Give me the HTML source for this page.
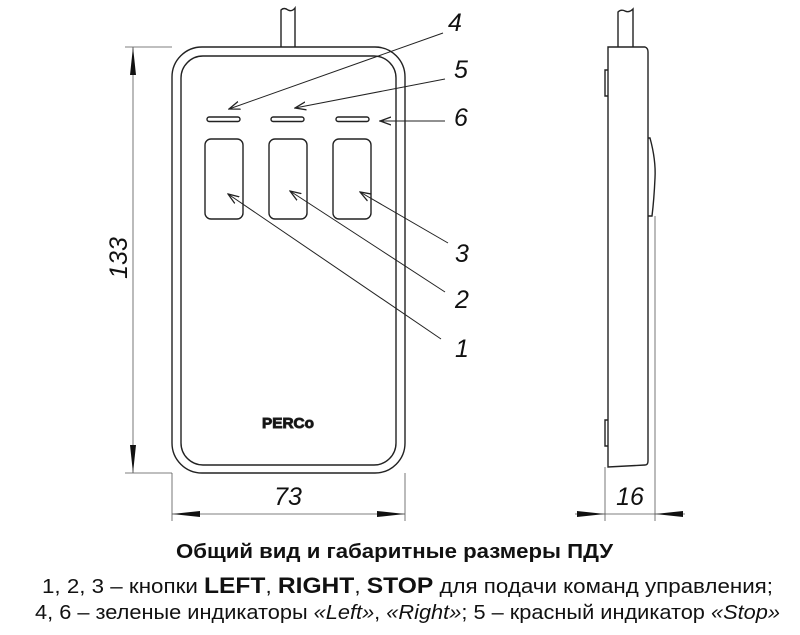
<!DOCTYPE html>
<html><head><meta charset="utf-8"><style>
html,body{margin:0;padding:0;background:#fff;}
svg{display:block;}
text{font-family:"Liberation Sans","Noto Sans CJK SC",sans-serif;fill:#111;}
</style></head><body>
<svg width="800" height="635" viewBox="0 0 800 635" xmlns="http://www.w3.org/2000/svg">
<defs>
<marker id="ah" viewBox="0 0 12 10" refX="11" refY="5" markerWidth="12" markerHeight="10" orient="auto" markerUnits="userSpaceOnUse">
<path d="M0,1 L11,5 L0,9" fill="none" stroke="#222" stroke-width="1.3"/>
</marker>
</defs>
<g fill="none" stroke="#222" stroke-width="1.4">
<path d="M281,47 V10 Q284,7 288,10 Q292,12 295,8 V47"/>
<rect x="172" y="47" width="233" height="426" rx="30"/>
<rect x="181" y="56" width="215" height="409" rx="22"/>
<rect x="207" y="117" width="33" height="4.5" rx="2.2"/>
<rect x="271" y="117" width="33" height="4.5" rx="2.2"/>
<rect x="336" y="117" width="33" height="4.5" rx="2.2"/>
<rect x="205" y="139" width="38" height="80" rx="6"/>
<rect x="269" y="139" width="38" height="80" rx="6"/>
<rect x="333" y="139" width="38" height="80" rx="6"/>
<path d="M618,47 V12 Q621,9 625,11 Q629,13 633,9 V47"/>
<path d="M608,47 H645 Q648,48 648,52 V461 Q648,465 645,465 L608,467 Z"/>
<path d="M608,70 H605 V96 H608"/>
<path d="M608,420 H605 V446 H608"/>
<path d="M648,138 H650 Q656,160 655,178 Q654,200 652,216 H648"/>
</g>
<g stroke="#222" stroke-width="1" fill="none">
<line x1="443" y1="33" x2="229" y2="109" marker-end="url(#ah)"/>
<line x1="445" y1="79" x2="295" y2="108" marker-end="url(#ah)"/>
<line x1="445" y1="121" x2="380" y2="121" marker-end="url(#ah)"/>
<line x1="448" y1="243" x2="360" y2="192" marker-end="url(#ah)"/>
<line x1="445" y1="292" x2="290" y2="191" marker-end="url(#ah)"/>
<line x1="441" y1="339" x2="228" y2="194" marker-end="url(#ah)"/>
</g>
<g font-size="25" font-style="italic">
<text x="448" y="31">4</text>
<text x="454" y="78">5</text>
<text x="454" y="126">6</text>
<text x="455" y="262">3</text>
<text x="455" y="308">2</text>
<text x="455" y="357">1</text>
</g>
<g stroke="#555" stroke-width="0.8" fill="none">
<line x1="125" y1="47" x2="172" y2="47"/>
<line x1="125" y1="473" x2="172" y2="473"/>
<line x1="133" y1="47" x2="133" y2="473"/>
<line x1="172" y1="473" x2="172" y2="521"/>
<line x1="405" y1="473" x2="405" y2="521"/>
<line x1="172" y1="514" x2="405" y2="514"/>
<line x1="605" y1="467" x2="605" y2="521"/>
<line x1="655" y1="216" x2="655" y2="521"/>
<line x1="575" y1="514" x2="685" y2="514"/>
</g>
<g fill="#111">
<path d="M133,47 L130,75 L136,75 Z"/>
<path d="M133,473 L130,445 L136,445 Z"/>
<path d="M172,514 L200,511 L200,517 Z"/>
<path d="M405,514 L377,511 L377,517 Z"/>
<path d="M605,514 L577,511 L577,517 Z"/>
<path d="M655,514 L683,511 L683,517 Z"/>
</g>
<text x="0" y="0" font-size="25" font-style="italic" text-anchor="middle" transform="translate(127,258) rotate(-90)">133</text>
<text x="288" y="505" font-size="25" font-style="italic" text-anchor="middle">73</text>
<text x="630" y="505" font-size="25" font-style="italic" text-anchor="middle">16</text>
<text x="262" y="428" font-size="15" font-weight="bold" textLength="52" lengthAdjust="spacingAndGlyphs" fill="#fff" stroke="#222" stroke-width="0.9">PERCo</text>
<text x="176" y="558" font-size="20" font-weight="bold" textLength="437" lengthAdjust="spacingAndGlyphs">Общий вид и габаритные размеры ПДУ</text>
<text x="42" y="593" font-size="20" textLength="731" lengthAdjust="spacingAndGlyphs">1, 2, 3 – кнопки <tspan font-weight="bold" font-size="22">LEFT</tspan>, <tspan font-weight="bold" font-size="22">RIGHT</tspan>, <tspan font-weight="bold" font-size="22">STOP</tspan> для подачи команд управления;</text>
<text x="35" y="619" font-size="20" textLength="745" lengthAdjust="spacingAndGlyphs">4, 6 – зеленые индикаторы <tspan font-style="italic">«Left»</tspan>, <tspan font-style="italic">«Right»</tspan>; 5 – красный индикатор <tspan font-style="italic">«Stop»</tspan></text>
</svg>
</body></html>
